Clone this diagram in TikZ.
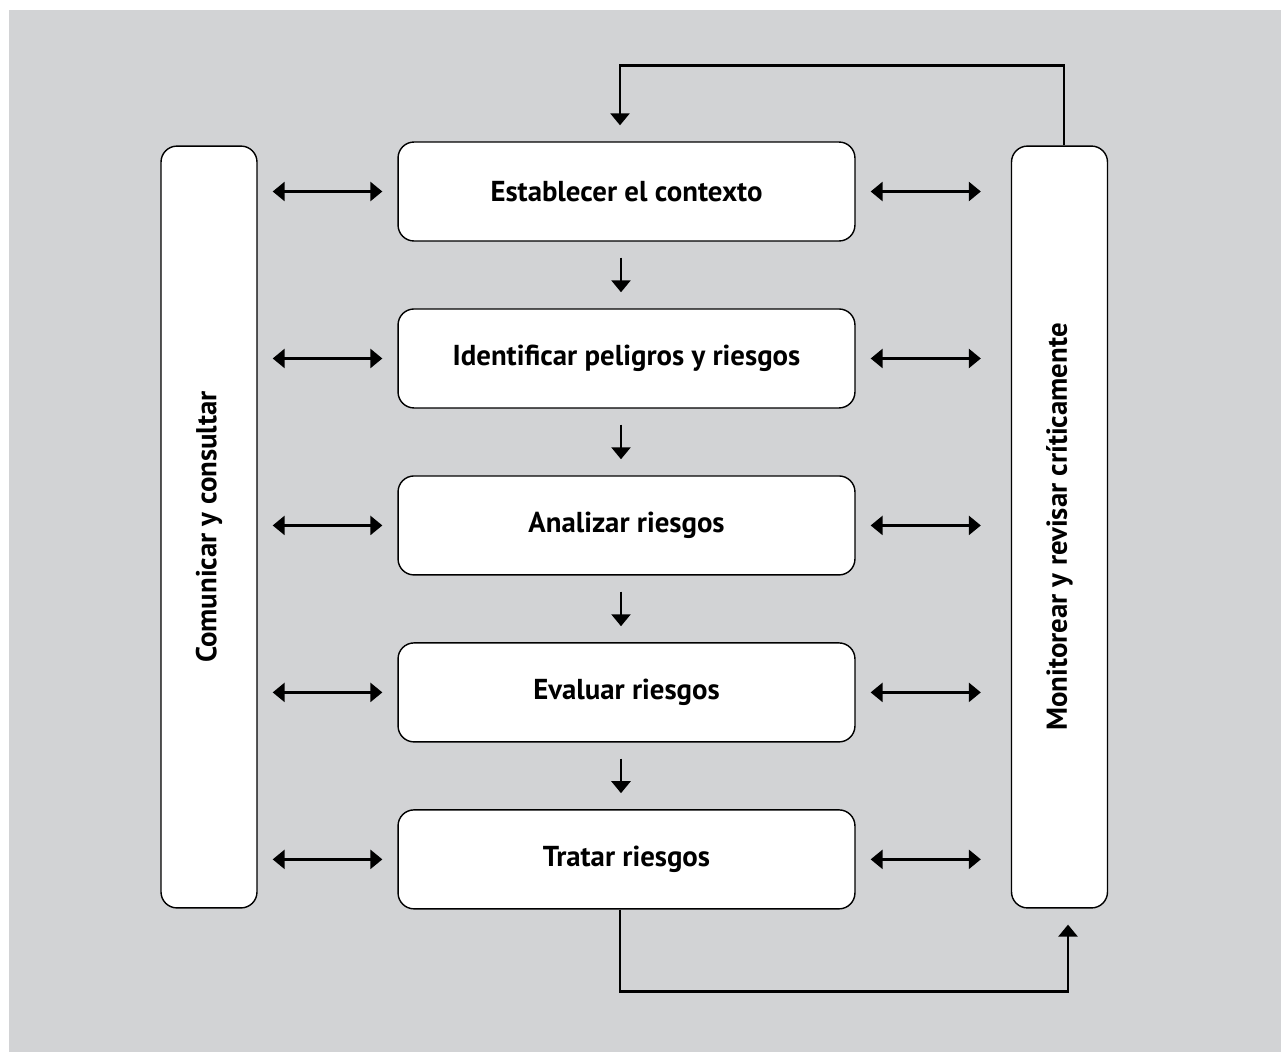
\documentclass[tikz,border=0pt]{standalone}
\usepackage{fontspec}
\setmainfont{PT Sans}
\usepackage{graphicx}
\usetikzlibrary{arrows.meta}
\definecolor{fondo}{RGB}{210,211,213}
\tikzset{
>={Triangle[length=6.8pt,width=10.8pt]},
node distance=3.34cm,
etapa/.style={draw,thick,fill=white,rounded corners=0.32cm,minimum width=9.14cm,minimum height=1.98cm,font=\bfseries\fontsize{16.4}{19}\selectfont},
lateral/.style={draw,thick,fill=white,rounded corners=0.32cm,minimum width=1.92cm,minimum height=15.24cm,font=\bfseries\fontsize{16.4}{19}\selectfont},
freccia/.style={->,line width=1.4pt,shorten >=0.32cm,shorten <=0.32cm},
doppia/.style={<->,line width=1.4pt,shorten >=0.3cm,shorten <=0.3cm}}

\begin{document}
\begin{tikzpicture}[x=0.02cm,y=-0.02cm]

\useasboundingbox (0,0) rectangle (1281,1052);
\fill[fondo] (9,10) rectangle (1281,1052);

\node[etapa] (ctx) at (626.5,191.5) {Establecer el contexto};
\node (ide) [etapa,below of=ctx] {Identificar peligros y riesgos};
\node (ana) [etapa,below of=ide] {Analizar riesgos};
\node (eva) [etapa,below of=ana] {Evaluar riesgos};
\node (tra) [etapa,below of=eva] {Tratar riesgos};

\node[lateral] (com) at (209,527) {\rotatebox{90}{Comunicar y consultar}};
\node[lateral] (mon) at (1059.5,527) {\rotatebox{90}{Monitorear y revisar críticamente}};

\path[doppia] (com.east |- ctx.west) edge (ctx.west);
\path[doppia] (com.east |- ide.west) edge (ide.west);
\path[doppia] (com.east |- ana.west) edge (ana.west);
\path[doppia] (com.east |- eva.west) edge (eva.west);
\path[doppia] (com.east |- tra.west) edge (tra.west);

\path[doppia,shorten >=0.6cm] (ctx.east) edge (mon.west |- ctx.east);
\path[doppia,shorten >=0.6cm] (ide.east) edge (mon.west |- ide.east);
\path[doppia,shorten >=0.6cm] (ana.east) edge (mon.west |- ana.east);
\path[doppia,shorten >=0.6cm] (eva.east) edge (mon.west |- eva.east);
\path[doppia,shorten >=0.6cm] (tra.east) edge (mon.west |- tra.east);

\path[freccia] ([xshift=-0.11cm]ctx.south) edge ([xshift=-0.11cm]ide.north);
\path[freccia] ([xshift=-0.11cm]ide.south) edge ([xshift=-0.11cm]ana.north);
\path[freccia] ([xshift=-0.11cm]ana.south) edge ([xshift=-0.11cm]eva.north);
\path[freccia] ([xshift=-0.11cm]eva.south) edge ([xshift=-0.11cm]tra.north);

% lazos de retorno
\draw[freccia,shorten <=0pt] ([xshift=0.09cm]mon.north) -- ++(0,-80) -| ([xshift=-0.13cm]ctx.north);
\draw[freccia,shorten <=0pt] ([xshift=-0.13cm]tra.south) -- ++(0,82) -| ([xshift=0.17cm]mon.south);

\end{tikzpicture}
\end{document}
